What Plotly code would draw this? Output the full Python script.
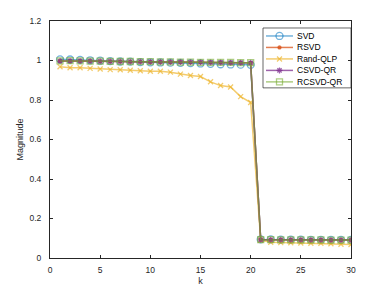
import plotly.graph_objects as go

k = list(range(1, 31))
svd = [1.006, 1.005, 1.003, 1.001, 0.999, 0.997, 0.995, 0.994, 0.992, 0.991,
       0.990, 0.989, 0.988, 0.987, 0.985, 0.983, 0.981, 0.980, 0.979, 0.978,
       0.094, 0.094, 0.093, 0.093, 0.093, 0.092, 0.092, 0.092, 0.092, 0.092]
rsvd = [0.998, 0.998, 0.997, 0.997, 0.996, 0.995, 0.995, 0.994, 0.994, 0.993,
        0.993, 0.992, 0.992, 0.991, 0.991, 0.990, 0.990, 0.989, 0.989, 0.988,
        0.093, 0.093, 0.093, 0.092, 0.092, 0.092, 0.092, 0.091, 0.091, 0.091]
randqlp = [0.968, 0.963, 0.963, 0.960, 0.957, 0.954, 0.953, 0.951, 0.948, 0.946,
           0.946, 0.941, 0.931, 0.924, 0.919, 0.892, 0.873, 0.866, 0.817, 0.787,
           0.090, 0.080, 0.078, 0.077, 0.076, 0.075, 0.074, 0.072, 0.070, 0.068]
csvdqr = [0.997, 0.998, 0.998, 0.997, 0.996, 0.996, 0.995, 0.994, 0.994, 0.993,
          0.993, 0.992, 0.992, 0.991, 0.991, 0.990, 0.990, 0.989, 0.989, 0.988,
          0.092, 0.092, 0.092, 0.092, 0.092, 0.091, 0.091, 0.091, 0.091, 0.091]
rcsvdqr = [0.998, 0.999, 0.998, 0.997, 0.997, 0.996, 0.995, 0.995, 0.994, 0.994,
           0.993, 0.993, 0.992, 0.992, 0.991, 0.991, 0.990, 0.990, 0.989, 0.989,
           0.093, 0.093, 0.092, 0.092, 0.092, 0.092, 0.092, 0.091, 0.091, 0.091]

names = ["SVD", "RSVD", "Rand-QLP", "CSVD-QR", "RCSVD-QR"]
values = [svd, rsvd, randqlp, csvdqr, rcsvdqr]
x_ticks = [0, 5, 10, 15, 20, 25, 30]
y_ticks = [0, 0.2, 0.4, 0.6, 0.8, 1.0, 1.2]
y_ticktext = ["0", "0.2", "0.4", "0.6", "0.8", "1", "1.2"]

styles = [
    ("rgba(0,114,189,0.55)", "circle-open", 7),
    ("rgba(217,83,25,0.75)", "circle", 3),
    ("rgba(237,177,32,0.65)", "x-thin-open", 5),
    ("rgba(126,47,142,0.75)", "asterisk-open", 5),
    ("rgba(119,172,48,0.6)", "square-open", 6),
]

fig = go.Figure()
for name, vals, (col, sym, sz) in zip(names, values, styles):
    fig.add_trace(go.Scatter(
        x=k, y=vals, name=name, mode="lines+markers", showlegend=False,
        line=dict(color=col, width=1.5),
        marker=dict(symbol=sym, size=sz, color=col, line=dict(color=col, width=1.3)),
    ))

# custom legend (MATLAB-style compact box), on a hidden overlay pixel-like axis
leg_x0, leg_x1, leg_y0, leg_y1 = 263, 351, 28, 88
row_y0, row_dy = 36, 11.5
for i, (name, (col, sym, sz)) in enumerate(zip(names, styles)):
    ry = row_y0 + i * row_dy
    fig.add_trace(go.Scatter(
        x=[266, 279.5, 293], y=[ry, ry, ry], xaxis="x2", yaxis="y2",
        mode="lines", showlegend=False, hoverinfo="skip",
        line=dict(color=col, width=1.5)))
    fig.add_trace(go.Scatter(
        x=[279.5], y=[ry], xaxis="x2", yaxis="y2",
        mode="markers", showlegend=False, hoverinfo="skip",
        marker=dict(symbol=sym, size=sz, color=col, line=dict(color=col, width=1.3))))
    fig.add_annotation(x=295, y=ry, xref="x2", yref="y2", text=name, showarrow=False,
                       xanchor="left", yanchor="middle",
                       font=dict(size=8.5, color="#000000"))

fig.add_shape(type="rect", xref="x2", yref="y2", x0=leg_x0, x1=leg_x1, y0=leg_y0, y1=leg_y1,
              line=dict(color="#262626", width=0.7), fillcolor="white", layer="below")

axis_common = dict(
    showline=True, linecolor="#262626", linewidth=1, mirror="ticks",
    ticks="inside", ticklen=3, tickcolor="#262626", showgrid=False, automargin=False,
    zeroline=False, tickfont=dict(family="Liberation Sans, Arial", size=8.5, color="#262626"),
)

fig.update_layout(
    width=388, height=291,
    margin=dict(l=50, r=37, t=21, b=32.5, autoexpand=False),
    paper_bgcolor="white", plot_bgcolor="white",
    font=dict(family="Liberation Sans, Arial", size=8.5, color="#262626"),
    xaxis=dict(range=[0, 30], tickvals=x_ticks, ticklabelstandoff=4,
               title=dict(text="k", font=dict(size=9), standoff=3), **axis_common),
    yaxis=dict(range=[0, 1.2], tickvals=y_ticks, ticktext=y_ticktext, ticklabelstandoff=6,
               title=dict(text="Magnitude", font=dict(size=9), standoff=4), **axis_common),
    xaxis2=dict(overlaying="x", range=[50, 351], visible=False, fixedrange=True),
    yaxis2=dict(overlaying="y", range=[258.5, 21], visible=False, fixedrange=True),
    showlegend=False,
)

fig.write_html("out.html", config={"displayModeBar": False},
               post_script="document.body.style.margin='0';document.body.style.overflow='hidden';")
